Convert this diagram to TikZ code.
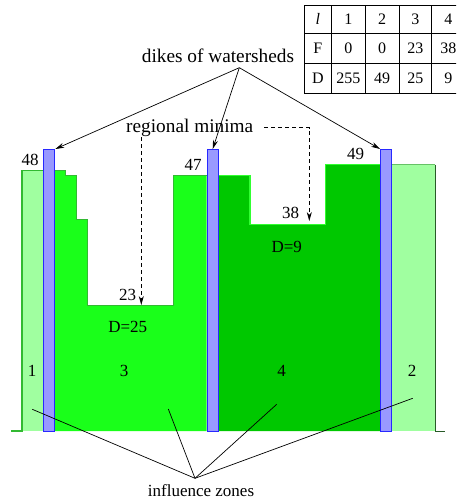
\documentclass[tikz,border=0pt]{standalone}
\usepackage{fontspec}
\setmainfont{Liberation Serif}
\usetikzlibrary{arrows.meta}
\definecolor{lightz}{RGB}{160,255,160}
\definecolor{zthree}{RGB}{26,255,26}
\definecolor{zfour}{RGB}{0,200,0}
\definecolor{dikefill}{RGB}{153,153,255}
\definecolor{dikeline}{RGB}{40,40,255}
\definecolor{edgegreen}{RGB}{50,185,50}
\definecolor{edgedark}{RGB}{40,90,40}
\tikzset{
  dikebox/.style={draw=dikeline, fill=dikefill, line width=1pt, inner sep=0pt, minimum width=11pt, minimum height=282pt, anchor=north west},
  lbl/.style={font=\fontsize{17}{20}\selectfont, inner sep=1pt},
  toplbl/.style={font=\fontsize{19.3}{22}\selectfont, inner sep=1pt},
  tbl/.style={font=\fontsize{16}{19}\selectfont, inner sep=0pt},
  ptr/.style={-{Stealth[length=9pt,width=5pt]}, line width=0.7pt},
  dptr/.style={-{Stealth[length=9pt,width=5pt]}, line width=0.7pt, dashed, dash pattern=on 4pt off 3pt},
  zline/.style={line width=0.7pt},
  outline/.style={draw=edgegreen, line width=1.2pt}
}
\begin{document}
\begin{tikzpicture}[x=1pt,y=-1pt]
\useasboundingbox (0,0) rectangle (456,503);
\clip (0,0) rectangle (456,503);
% zones
\fill[lightz] (22,431) -- (22,170.7) -- (43.3,170.7) -- (43.3,431) -- cycle;
\fill[zthree] (54.3,431) -- (54.3,170.7) -- (65.3,170.7) -- (65.3,175.7) -- (76.3,175.7) -- (76.3,219.3) -- (87.3,219.3) -- (87.3,305.7) -- (173.7,305.7) -- (173.7,175.7) -- (206.7,175.7) -- (206.7,431) -- cycle;
\fill[zfour] (217.3,431) -- (217.3,175.7) -- (250,175.7) -- (250,224.3) -- (325.3,224.3) -- (325.3,164.7) -- (380,164.7) -- (380,431) -- cycle;
\fill[lightz] (391,431) -- (391,164.7) -- (435,164.7) -- (435,431) -- cycle;
% outlines
\draw[outline] (11,431) -- (22,431) -- (22,170.7) -- (43.3,170.7);
\draw[outline] (54.3,170.7) -- (65.3,170.7) -- (65.3,175.7) -- (76.3,175.7) -- (76.3,219.3) -- (87.3,219.3) -- (87.3,305.7) -- (173.7,305.7) -- (173.7,175.7) -- (206.7,175.7);
\draw[outline, draw=green!70!lightz] (217.3,175.7) -- (250,175.7) -- (250,224.3) -- (325.3,224.3) -- (325.3,164.7) -- (380,164.7);
\draw[outline, draw=green!60!black!60] (391,164.7) -- (435,164.7);
\draw[line width=1pt, draw=edgedark] (435,164.7) -- (435,431) -- (445,431);
% dikes
\node[dikebox] (d1) at (43.3,149) {};
\node[dikebox] (d2) at (206.7,149) {};
\node[dikebox] (d3) at (380,149) {};
% heights
\node[lbl] (h48) at (30,159.5) {48};
\node[lbl] (h47) at (193,164.5) {47};
\node[lbl] (h49) at (355.7,153.5) {49};
\node[lbl] (h23) at (127.5,295) {23};
\node[lbl] (h38) at (290.7,212.5) {38};
\node[lbl] (dd9) at (286.7,246.5) {D=9};
\node[lbl] (dd25) at (127.7,327) {D=25};
% zone numbers
\node[lbl] (z1) at (32,370.5) {1};
\node[lbl] (z3) at (124,370.5) {3};
\node[lbl] (z4) at (281.7,370.5) {4};
\node[lbl] (z2) at (412,370.5) {2};
% regional minima
\node[toplbl] (rm) at (189.7,127.5) {regional minima};
\coordinate (rmr) at (264,127.7);
\coordinate (rmc) at (309.3,127.7);
\coordinate (m38) at (309.3,221);
\coordinate (rml) at (141.3,137);
\coordinate (m23) at (141.3,305);
\draw[dptr] (rmr) -- (rmc) -- (m38);
\draw[dptr] (rml) -- (m23);
% dikes label
\node[toplbl] (dk) at (218,55.5) {dikes of watersheds};
\coordinate (dkc) at (239.3,67.7);
\draw[ptr] (dkc) -- (d1.north east);
\draw[ptr] (dkc) -- (d2.north);
\draw[ptr] (dkc) -- (d3.north west);
% influence zones
\node[lbl] (iz) at (201,490.5) {influence zones};
\coordinate (izc) at (195,478.3);
\coordinate (iz1) at (32.3,409.3);
\coordinate (iz3) at (168.3,409);
\coordinate (iz4) at (276.7,404.3);
\coordinate (iz2) at (412.7,398.3);
\draw[zline] (izc) -- (iz1);
\draw[zline] (izc) -- (iz3);
\draw[zline] (izc) -- (iz4);
\draw[zline] (izc) -- (iz2);
% table
\draw[line width=0.7pt] (304,5.3) rectangle (465,93.3);
\draw[line width=0.7pt] (304,33.3) -- (465,33.3) (304,63.3) -- (465,63.3);
\draw[line width=0.7pt] (331.7,5.3) -- (331.7,93.3) (365,5.3) -- (365,93.3) (399,5.3) -- (399,93.3) (431.7,5.3) -- (431.7,93.3);
\node[tbl] (t00) at (317.8,19.3) {\textit{l}};
\node[tbl] (t01) at (348.3,19.3) {1};
\node[tbl] (t02) at (382,19.3) {2};
\node[tbl] (t03) at (415.3,19.3) {3};
\node[tbl] (t04) at (448.3,19.3) {4};
\node[tbl] (t10) at (317.8,48.3) {F};
\node[tbl] (t11) at (348.3,48.3) {0};
\node[tbl] (t12) at (382,48.3) {0};
\node[tbl] (t13) at (415.3,48.3) {23};
\node[tbl] (t14) at (448.3,48.3) {38};
\node[tbl] (t20) at (317.8,78.3) {D};
\node[tbl] (t21) at (348.3,78.3) {255};
\node[tbl] (t22) at (382,78.3) {49};
\node[tbl] (t23) at (415.3,78.3) {25};
\node[tbl] (t24) at (448.3,78.3) {9};
\end{tikzpicture}
\end{document}
